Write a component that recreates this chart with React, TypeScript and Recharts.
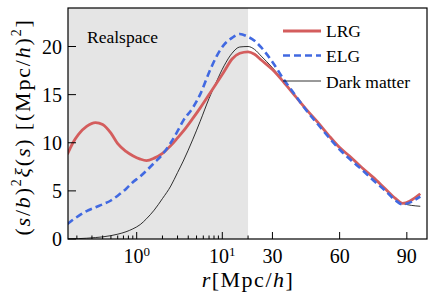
import React from "react";
import { LineChart, Line, XAxis, YAxis, ReferenceArea } from "recharts";

// r [Mpc/h] grid shared by all three curves
const rValues = [
  0.155, 0.18, 0.21, 0.26, 0.33, 0.4, 0.5, 0.6, 0.75, 0.9, 1.1, 1.3, 1.6, 2.0, 2.5, 3.0, 3.5,
  4.5, 5.5, 7, 8.6, 10.5, 13, 16, 20, 22, 25, 30, 35, 40, 45, 50, 55, 60, 65, 70, 75, 80, 85,
  88, 96,
];
const lrgValues = [
  8.8, 10.0, 10.9, 11.7, 12.1, 11.9, 11.0, 9.9, 9.1, 8.65, 8.3, 8.15, 8.4, 8.9, 9.7, 10.5, 11.2,
  12.5, 13.6, 15.0, 16.2, 17.4, 18.7, 19.3, 19.45, 19.2, 18.6, 17.6, 16.3, 14.9, 13.5, 12.2, 10.8,
  9.5, 8.5, 7.4, 6.4, 5.3, 4.2, 3.7, 4.7,
];
const elgValues = [
  1.55, 2.0, 2.4, 2.9, 3.3, 3.6, 4.0, 4.5, 5.2, 5.9, 6.5, 7.1, 7.9, 8.8, 10.0, 11.2, 12.3, 13.6,
  15.0, 17.3, 19.0, 20.2, 20.9, 21.3, 21.0, 20.6, 19.9, 18.4, 16.6, 15.0, 13.4, 12.0, 10.6, 9.3,
  8.2, 7.2, 6.1, 5.1, 4.0, 3.6, 4.4,
];
const dmValues = [
  0.0, 0.02, 0.04, 0.08, 0.15, 0.22, 0.35, 0.5, 0.75, 1.05, 1.5, 2.1, 3.0, 4.2, 5.5, 6.9, 8.1,
  10.3, 12.2, 14.6, 16.4, 18.0, 19.3, 19.95, 20.0, 19.7, 19.0, 17.8, 16.4, 14.9, 13.5, 12.2, 10.8,
  9.5, 8.5, 7.4, 6.4, 5.3, 4.2, 3.7, 3.4,
];

const majorTicks = [1, 10, 30, 60, 90];
const minorTicks = [0.2, 0.3, 0.4, 0.5, 0.6, 0.7, 0.8, 0.9, 2, 3, 4, 5, 6, 7, 8, 9, 20];
const tickLabels: Record<number, string[]> = { 1: ["10", "0"], 10: ["10", "1"], 30: ["30"], 60: ["60"], 90: ["90"] };
const yTicks = [0, 5, 10, 15, 20];

// log axis up to r=20, linear beyond
const BREAK = 20;
const LIN = 2.24 / 85.6;
const GAP = 0.023;
const toT = (r: number) => (r <= BREAK ? Math.log10(r) : Math.log10(BREAK) + GAP + (r - BREAK) * LIN);

const series = (vals: number[]) => rValues.map((r, i) => ({ t: toT(r), v: vals[i] }));
const lrgData = series(lrgValues);
const elgData = series(elgValues);
const dmData = series(dmValues);

const allTicks = [...minorTicks, ...majorTicks].map((r) => ({ r, t: toT(r), major: majorTicks.includes(r) }));
const findTick = (t: number) => allTicks.find((k) => Math.abs(k.t - t) < 1e-6);

const FONT = "'Liberation Serif', 'Times New Roman', serif";
const RED = "#d45d5d";
const BLUE = "#4169e1";

const W = 436;
const H = 300;
const LEFT = 68;
const RIGHT = 427;
const TOP = 8;
const BOTTOM = 239;

const BottomTick = (props: any) => {
  const { x, y, payload } = props;
  const k = findTick(payload.value);
  if (!k) return null;
  const len = k.major ? 7 : 3.5;
  const lab = k.major ? tickLabels[k.r] : null;
  return (
    <g>
      <line x1={x} y1={y} x2={x} y2={y - len} stroke="#000" strokeWidth={1} />
      {lab && (
        <text x={x} y={y + 24} textAnchor="middle" fontFamily={FONT} fontSize={20} fill="#000">
          {lab[0]}
          {lab[1] && (
            <tspan fontSize={13} dy={-7}>
              {lab[1]}
            </tspan>
          )}
        </text>
      )}
    </g>
  );
};

const TopTick = (props: any) => {
  const { x, y, payload } = props;
  const k = findTick(payload.value);
  if (!k) return null;
  const len = k.major ? 7 : 3.5;
  return <line x1={x} y1={y} x2={x} y2={y + len} stroke="#000" strokeWidth={1} />;
};

const LeftTick = (props: any) => {
  const { x, y, payload } = props;
  return (
    <g>
      <line x1={x} y1={y} x2={x + 8} y2={y} stroke="#000" strokeWidth={1} />
      <text x={x - 6} y={y + 7} textAnchor="end" fontFamily={FONT} fontSize={20} fill="#000">
        {payload.value}
      </text>
    </g>
  );
};

export default function App() {
  const xDomain = [(LEFT - 136.7) / 85.6, (RIGHT - 136.7) / 85.6];
  return (
    <div style={{ position: "fixed", left: 0, top: 0, width: W, height: H, background: "#fff" }}>
      <LineChart
        width={W}
        height={H}
        margin={{ top: TOP, right: W - RIGHT, bottom: 0, left: 0 }}
      >
        <ReferenceArea
          x1={xDomain[0]}
          x2={toT(BREAK)}
          y1={0}
          y2={24}
          fill="#e5e5e5"
          fillOpacity={1}
          stroke="none"
          ifOverflow="hidden"
        />
        <XAxis
          type="number"
          dataKey="t"
          domain={xDomain}
          allowDataOverflow
          ticks={allTicks.map((k) => k.t)}
          interval={0}
          tickSize={0}
          tickMargin={0}
          tickLine={false}
          axisLine={false}
          height={H - BOTTOM}
          tick={<BottomTick />}
        />
        <XAxis
          xAxisId="top"
          orientation="top"
          type="number"
          dataKey="t"
          domain={xDomain}
          allowDataOverflow
          ticks={allTicks.map((k) => k.t)}
          interval={0}
          tickSize={0}
          tickMargin={0}
          tickLine={false}
          axisLine={false}
          height={0}
          tick={<TopTick />}
        />
        <YAxis
          type="number"
          domain={[0, 24]}
          allowDataOverflow
          ticks={yTicks}
          interval={0}
          tickSize={0}
          tickMargin={0}
          tickLine={false}
          axisLine={false}
          width={LEFT}
          tick={<LeftTick />}
        />
        <Line
          data={dmData}
          dataKey="v"
          type="monotone"
          stroke="#000"
          strokeWidth={0.8}
          dot={false}
          isAnimationActive={false}
        />
        <Line
          data={lrgData}
          dataKey="v"
          type="monotone"
          stroke={RED}
          strokeWidth={2.8}
          dot={false}
          isAnimationActive={false}
        />
        <Line
          data={elgData}
          dataKey="v"
          type="monotone"
          stroke={BLUE}
          strokeWidth={2.6}
          strokeDasharray="7 4"
          dot={false}
          isAnimationActive={false}
        />
      </LineChart>

      {/* frame, legend and labels */}
      <svg
        width={W}
        height={H}
        style={{ position: "absolute", left: 0, top: 0, pointerEvents: "none" }}
        fontFamily={FONT}
      >
        <rect x={LEFT} y={TOP} width={RIGHT - LEFT} height={BOTTOM - TOP} fill="none" stroke="#000" strokeWidth={1.2} />
        <text x={87} y={43} fontSize={17.5}>Realspace</text>

        <line x1={283} y1={31} x2={321} y2={31} stroke={RED} strokeWidth={2.8} />
        <text x={326} y={37} fontSize={17.5}>LRG</text>
        <line x1={283} y1={55.5} x2={321} y2={55.5} stroke={BLUE} strokeWidth={2.6} strokeDasharray="7 4" />
        <text x={326} y={62} fontSize={17.5}>ELG</text>
        <line x1={283} y1={81} x2={321} y2={81} stroke="#000" strokeWidth={0.8} />
        <text x={326} y={87.5} fontSize={17.5}>Dark matter</text>

        <text x={248} y={287} fontSize={22} textAnchor="middle" letterSpacing={1.5}>
          <tspan fontStyle="italic">r</tspan>[Mpc/<tspan fontStyle="italic">h</tspan>]
        </text>

        <text
          x={30}
          y={127}
          fontSize={22}
          textAnchor="middle"
          letterSpacing={1.8}
          transform="rotate(-90, 30, 127)"
        >
          (<tspan fontStyle="italic">s</tspan>/<tspan fontStyle="italic">b</tspan>)
          <tspan fontSize={14} dy={-9}>2</tspan>
          <tspan fontStyle="italic" dy={9}>ξ</tspan>(<tspan fontStyle="italic">s</tspan>) [(Mpc/
          <tspan fontStyle="italic">h</tspan>)<tspan fontSize={14} dy={-9}>2</tspan>
          <tspan dy={9}>]</tspan>
        </text>
      </svg>
    </div>
  );
}
